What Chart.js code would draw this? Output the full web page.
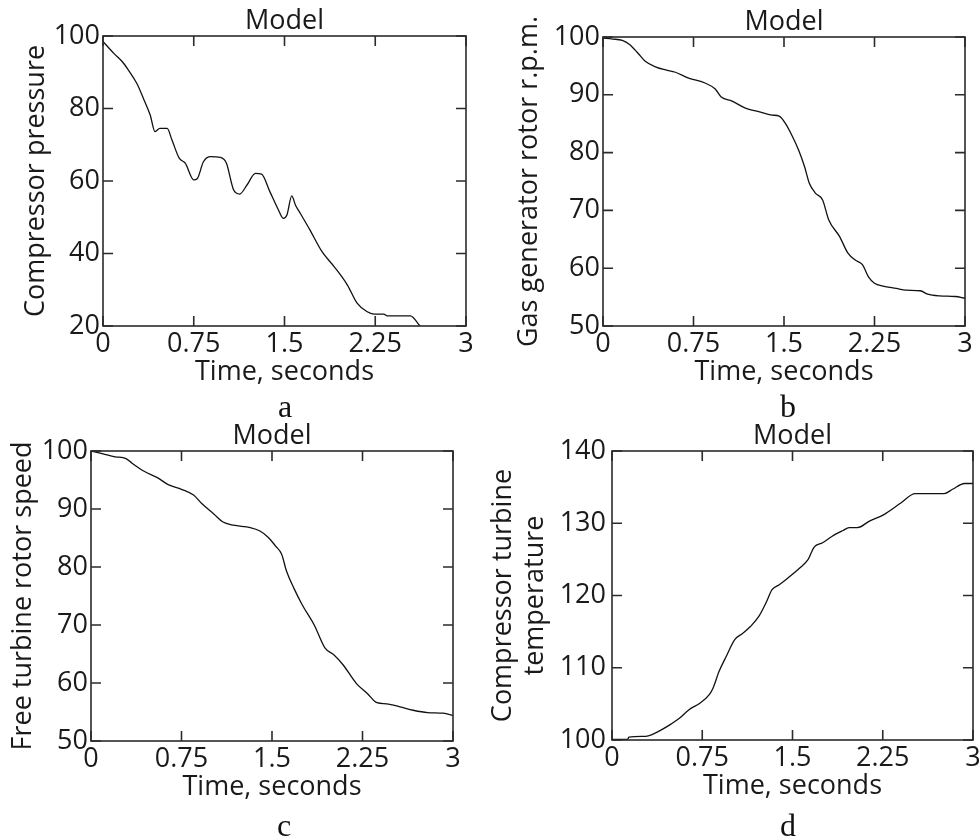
<!DOCTYPE html>
<html>
<head>
<meta charset="utf-8">
<script src="https://cdn.jsdelivr.net/npm/chart.js@4.4.1/dist/chart.umd.min.js"></script>
<style>
  html, body { margin: 0; padding: 0; background: #fff; overflow: hidden; }
  body { width: 979px; height: 836px; position: relative; }
  canvas { position: absolute; }
  .letter {
    position: absolute;
    width: 40px;
    text-align: center;
    font-family: "Liberation Serif", "Times New Roman", serif;
    font-size: 32px;
    line-height: 32px;
    color: #111;
  }
</style>
</head>
<body>
<canvas id="chartA" width="489" height="400" style="left:0;top:0"></canvas>
<canvas id="chartB" width="490" height="400" style="left:489px;top:0"></canvas>
<canvas id="chartC" width="489" height="400" style="left:0;top:418px"></canvas>
<canvas id="chartD" width="500" height="400" style="left:484px;top:418px"></canvas>
<div class="letter" style="left:265px;top:390px">a</div>
<div class="letter" style="left:768px;top:390px">b</div>
<div class="letter" style="left:264px;top:809px">c</div>
<div class="letter" style="left:768px;top:809px">d</div>
<script>
// values
const plotTitle = 'Model';
const xTitle = 'Time, seconds';

// a - compressor pressure
const timeA = [0, 0.09, 0.16, 0.21, 0.28, 0.34, 0.39, 0.43, 0.47, 0.53, 0.57, 0.63, 0.68, 0.75, 0.78, 0.83, 0.89, 0.97, 1.02, 1.08, 1.13, 1.19, 1.26, 1.31, 1.38, 1.45, 1.49, 1.52, 1.56, 1.59, 1.63, 1.71, 1.81, 1.91, 2.02, 2.1, 2.18, 2.24, 2.32, 2.35, 2.54, 2.62];
const pressure = [98.5, 95.2, 92.9, 90.6, 86.9, 82.3, 78.2, 73.6, 74.5, 74.5, 71.3, 66.3, 64.9, 60.3, 60.7, 65.3, 66.7, 66.5, 64.9, 57.5, 56.4, 58.9, 62.1, 61.9, 57.0, 52.0, 49.7, 50.6, 55.9, 53.4, 51.1, 46.5, 40.5, 36.4, 31.3, 26.3, 24.0, 23.3, 23.3, 22.8, 22.8, 20.0];

// b - gas generator rotor rpm
const timeB = [0, 0.08, 0.16, 0.22, 0.29, 0.35, 0.44, 0.52, 0.6, 0.71, 0.85, 0.93, 0.98, 1.07, 1.18, 1.29, 1.4, 1.46, 1.51, 1.57, 1.62, 1.67, 1.71, 1.76, 1.82, 1.87, 1.96, 2.03, 2.09, 2.15, 2.2, 2.25, 2.32, 2.43, 2.51, 2.63, 2.69, 2.79, 2.92, 3.0];
const gasRpm = [99.8, 99.65, 99.4, 98.7, 97.2, 95.8, 94.8, 94.3, 93.9, 92.9, 92.0, 91.0, 89.6, 88.9, 87.7, 87.1, 86.5, 86.3, 85.1, 82.8, 80.5, 77.6, 74.7, 73.0, 71.8, 68.4, 65.5, 62.6, 61.4, 60.6, 58.5, 57.4, 56.9, 56.5, 56.2, 56.1, 55.5, 55.2, 55.1, 54.8];

// c - free turbine rotor speed
const timeC = [0, 0.1, 0.2, 0.29, 0.34, 0.44, 0.55, 0.64, 0.75, 0.85, 0.92, 1.02, 1.09, 1.18, 1.32, 1.4, 1.47, 1.53, 1.58, 1.62, 1.68, 1.75, 1.85, 1.94, 2.01, 2.09, 2.2, 2.29, 2.37, 2.45, 2.56, 2.67, 2.79, 2.92, 3.0];
const freeSpeed = [100, 99.5, 99.0, 98.7, 97.9, 96.5, 95.4, 94.2, 93.4, 92.4, 90.9, 89.1, 87.8, 87.2, 86.8, 86.2, 85.1, 83.6, 82.2, 79.3, 76.4, 73.5, 70.0, 66.0, 64.9, 63.1, 59.9, 58.2, 56.6, 56.4, 55.9, 55.3, 54.9, 54.8, 54.4];

// d - compressor turbine temperature
const timeD = [0, 0.13, 0.14, 0.28, 0.34, 0.41, 0.49, 0.56, 0.64, 0.73, 0.81, 0.84, 0.89, 0.95, 1.02, 1.09, 1.15, 1.22, 1.28, 1.33, 1.39, 1.46, 1.56, 1.63, 1.68, 1.75, 1.83, 1.92, 1.97, 2.04, 2.14, 2.26, 2.4, 2.52, 2.66, 2.76, 2.83, 2.93, 3.0];
const turbineTemp = [100.1, 100.1, 100.4, 100.5, 100.8, 101.4, 102.2, 103.0, 104.2, 105.1, 106.3, 107.2, 109.5, 111.6, 113.9, 114.8, 115.7, 117.1, 119.0, 120.8, 121.5, 122.4, 123.8, 125.0, 126.7, 127.3, 128.2, 129.0, 129.4, 129.4, 130.3, 131.2, 132.8, 134.1, 134.1, 134.1, 134.7, 135.5, 135.5];

const textColor = '#1a1a1a';
const fontFamily = '"Open Sans", "DejaVu Sans", sans-serif';

// ticks pointing inwards on all four sides + box around the plot
const insideTicks = {
    id: 'insideTicks',
    afterDraw(chart) {
        const {ctx, chartArea: area, scales: {x, y}} = chart;
        const len = 10;
        ctx.save();
        ctx.strokeStyle = '#2b2b2b';
        ctx.lineWidth = 1.6;
        ctx.beginPath();
        x.ticks.forEach((t, i) => {
            const px = x.getPixelForTick(i);
            ctx.moveTo(px, area.bottom); ctx.lineTo(px, area.bottom - len);
            ctx.moveTo(px, area.top); ctx.lineTo(px, area.top + len);
        });
        y.ticks.forEach((t, i) => {
            const py = y.getPixelForTick(i);
            ctx.moveTo(area.left, py); ctx.lineTo(area.left + len, py);
            ctx.moveTo(area.right, py); ctx.lineTo(area.right - len, py);
        });
        ctx.stroke();
        ctx.strokeRect(area.left, area.top, area.right - area.left, area.bottom - area.top);
        ctx.restore();
    }
};

function makeChart(id, xs, ys, opt) {
    const points = xs.map((t, i) => ({x: t, y: ys[i]}));
    return new Chart(document.getElementById(id), {
        type: 'line',
        data: {
            datasets: [{
                data: points,
                borderColor: '#111',
                borderWidth: 1.3,
                pointRadius: 0,
                cubicInterpolationMode: 'monotone',
                fill: false
            }]
        },
        options: {
            responsive: false,
            animation: false,
            layout: { padding: opt.pad },
            plugins: {
                legend: { display: false },
                tooltip: { enabled: false },
                title: {
                    display: true,
                    text: plotTitle,
                    fullSize: false,
                    color: textColor,
                    font: { family: fontFamily, size: 27, weight: 'normal', lineHeight: 1 },
                    padding: { top: 0, bottom: 1 }
                }
            },
            scales: {
                x: {
                    type: 'linear',
                    min: 0,
                    max: 3,
                    grid: { display: false, drawTicks: false },
                    border: { display: false },
                    ticks: {
                        stepSize: 0.75,
                        padding: 2,
                        maxRotation: 0,
                        autoSkip: false,
                        color: textColor,
                        font: { family: fontFamily, size: 27 },
                        callback: v => String(+v.toFixed(2))
                    },
                    title: {
                        display: true,
                        text: xTitle,
                        color: textColor,
                        font: { family: fontFamily, size: 27 },
                        padding: { top: 0, bottom: 7 }
                    },
                    afterFit: s => { s.height = 70; }
                },
                y: {
                    type: 'linear',
                    min: opt.yMin,
                    max: opt.yMax,
                    grid: { display: false, drawTicks: false },
                    border: { display: false },
                    ticks: {
                        stepSize: opt.yStep,
                        padding: opt.tickPad,
                        autoSkip: false,
                        color: textColor,
                        font: { family: fontFamily, size: 27 }
                    },
                    title: {
                        display: true,
                        text: opt.yTitle,
                        color: textColor,
                        font: { family: fontFamily, size: 27, lineHeight: opt.titleLH || 1.2 },
                        padding: { top: opt.titlePad, bottom: 0 }
                    },
                    afterFit: s => { s.width = opt.yWidth; }
                }
            }
        },
        plugins: [insideTicks]
    });
}

makeChart('chartA', timeA, pressure, {
    yTitle: 'Compressor pressure', yMin: 20, yMax: 100, yStep: 20,
    yWidth: 103, tickPad: 3, titlePad: 20,
    pad: { left: 0, right: 23, top: 8, bottom: 4 }
});
makeChart('chartB', timeB, gasRpm, {
    yTitle: 'Gas generator rotor r.p.m.', yMin: 50, yMax: 100, yStep: 10,
    yWidth: 114, tickPad: 3, titlePad: 24,
    pad: { left: 0, right: 14, top: 9, bottom: 4 }
});
makeChart('chartC', timeC, freeSpeed, {
    yTitle: 'Free turbine rotor speed', yMin: 50, yMax: 100, yStep: 10,
    yWidth: 91, tickPad: 3, titlePad: 7,
    pad: { left: 0, right: 36, top: 5, bottom: 7 }
});
makeChart('chartD', timeD, turbineTemp, {
    yTitle: ['Compressor turbine', 'temperature'], yMin: 100, yMax: 140, yStep: 10,
    yWidth: 128, tickPad: 6, titlePad: 3, titleLH: 1.185,
    pad: { left: 0, right: 11, top: 5, bottom: 8 }
});
</script>
</body>
</html>
